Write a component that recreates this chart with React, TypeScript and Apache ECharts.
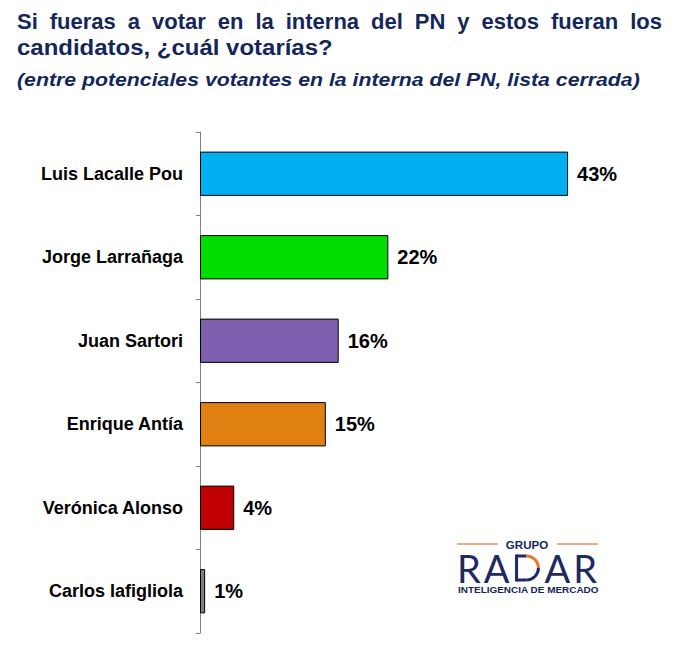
import React, { useEffect, useRef } from "react";
import * as echarts from "echarts";

const candidates = [
  "Luis Lacalle Pou",
  "Jorge Larrañaga",
  "Juan Sartori",
  "Enrique Antía",
  "Verónica Alonso",
  "Carlos Iafigliola",
];
const shares = [43.0, 22.0, 16.2, 14.7, 4.0, 0.6];
const barColors = ["#00B0F0", "#00DD00", "#7F5FAF", "#E07F12", "#C00000", "#808080"];

const titleLine1 = "Si fueras a votar en la interna del PN y estos fueran los";
const titleLine2 = "candidatos, ¿cuál votarías?";
const subtitle = "(entre potenciales votantes en la interna del PN, lista cerrada)";

const NAVY = "#14265a";
const LOGO_NAVY = "#1d2a62";
const LOGO_ORANGE = "#E8772E";
const FONT = '"Liberation Sans", Arial, sans-serif';

function measure(words: string[], font: string) {
  const canvas = document.createElement("canvas");
  const ctx = canvas.getContext("2d")!;
  ctx.font = font;
  return words.map((w) => ctx.measureText(w).width);
}

function spread(parts: string[], x0: number, x1: number, font: string) {
  const widths = measure(parts, font);
  const total = widths.reduce((a, b) => a + b, 0);
  const gap = parts.length > 1 ? (x1 - x0 - total) / (parts.length - 1) : 0;
  const out: { t: string; x: number; w: number }[] = [];
  let x = x0;
  parts.forEach((p, i) => {
    out.push({ t: p, x, w: widths[i] });
    x += widths[i] + gap;
  });
  return out;
}

export default function App() {
  const ref = useRef<HTMLDivElement>(null);
  useEffect(() => {
    if (!ref.current) return;
    const chart = echarts.init(ref.current, null, { renderer: "svg" });
    const titleFont = `bold 22px ${FONT}`;
    const line1 = spread(titleLine1.split(" "), 17, 662, titleFont);
    const g: any[] = line1.map((w) => ({
      type: "text",
      x: w.x,
      y: 21,
      style: { text: w.t, fill: NAVY, font: titleFont, textVerticalAlign: "middle" },
    }));
    g.push({
      type: "text",
      x: 17,
      y: 47,
      scaleX: 1.09,
      style: { text: titleLine2, fill: NAVY, font: titleFont, textVerticalAlign: "middle" },
    });
    g.push({
      type: "text",
      x: 17,
      y: 79,
      scaleX: 1.12,
      style: { text: subtitle, fill: NAVY, font: `italic bold 19px ${FONT}`, textVerticalAlign: "middle" },
    });
    // logo
    g.push({ type: "line", shape: { x1: 457, y1: 544, x2: 498, y2: 544 }, style: { stroke: "#F2A888", lineWidth: 2 } });
    g.push({ type: "line", shape: { x1: 557, y1: 544, x2: 598, y2: 544 }, style: { stroke: "#F2A888", lineWidth: 2 } });
    g.push({
      type: "text",
      x: 527,
      y: 545,
      scaleX: 1.05,
      style: { text: "GRUPO", fill: NAVY, font: `bold 11px ${FONT}`, textAlign: "center", textVerticalAlign: "middle" },
    });
    const radarFont = `normal 38px Lato, ${FONT}`;
    const letters = spread("RADAR".split(""), 457, 597, radarFont);
    letters.forEach((l, i) => {
      if (i === 2) {
        const L = l.x + 4;
        const R = l.x + l.w - 3;
        const top = 556;
        const bot = 580;
        const r = (bot - top) / 2;
        const cx = R - r;
        const cy = top + r;
        const st = { stroke: LOGO_NAVY, lineWidth: 3, fill: null };
        g.push({ type: "line", shape: { x1: L, y1: top - 1.5, x2: L, y2: bot + 1.5 }, style: st });
        g.push({ type: "line", shape: { x1: L, y1: top, x2: cx, y2: top }, style: st });
        g.push({ type: "line", shape: { x1: L, y1: bot, x2: cx, y2: bot }, style: st });
        g.push({ type: "arc", shape: { cx, cy, r, startAngle: 0, endAngle: Math.PI / 2, clockwise: true }, style: st });
        g.push({
          type: "arc",
          shape: { cx, cy, r, startAngle: -Math.PI / 2, endAngle: 0, clockwise: true },
          style: { stroke: LOGO_ORANGE, lineWidth: 3, fill: null },
        });
      } else {
        g.push({ type: "text", x: l.x, y: 568, style: { text: l.t, fill: LOGO_NAVY, font: radarFont, textVerticalAlign: "middle" } });
      }
    });
    g.push({
      type: "text",
      x: 458,
      y: 590,
      scaleX: 1.17,
      style: { text: "INTELIGENCIA DE MERCADO", fill: NAVY, font: `bold 8.5px ${FONT}`, textVerticalAlign: "middle" },
    });
    chart.setOption({
      animation: false,
      backgroundColor: "#ffffff",
      grid: { left: 200, top: 132, right: 50, bottom: 12, containLabel: false },
      xAxis: { type: "value", min: 0, max: 50, show: false },
      yAxis: {
        type: "category",
        data: candidates,
        inverse: true,
        axisLine: { show: true, lineStyle: { color: "#808080", width: 1 } },
        axisTick: { show: true, length: 4, lineStyle: { color: "#808080" } },
        axisLabel: { color: "#000", fontFamily: FONT, fontWeight: "bold", fontSize: 18, margin: 17 },
      },
      series: [
        {
          type: "bar",
          data: shares.map((v, i) => ({ value: v, itemStyle: { color: barColors[i] } })),
          barCategoryGap: "47%",
          itemStyle: { borderColor: "#000", borderWidth: 1 },
          label: {
            show: true,
            position: "right",
            distance: 9,
            color: "#000",
            fontFamily: FONT,
            fontWeight: "bold",
            fontSize: 20,
            formatter: (p: any) => Math.round(p.value) + "%",
          },
        },
      ],
      graphic: g,
    });
    return () => chart.dispose();
  }, []);
  return <div ref={ref} style={{ width: 678, height: 645, position: "absolute", left: 0, top: 0 }} />;
}
